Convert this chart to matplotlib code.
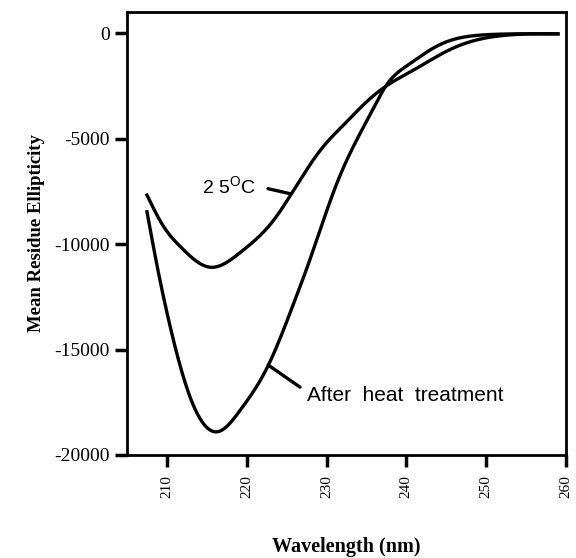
import numpy as np
import matplotlib
matplotlib.use('Agg')
import matplotlib.pyplot as plt

# Valeurs (longueur d'onde en nm, ellipticite)
wl_25c = [207.5, 209.6, 211.7, 215.4, 219.2, 221.3, 223.4, 225.5, 227.6, 229.3,
          232.6, 234.3, 237.4, 240.6, 242.7, 245.6, 248.9, 252.0, 259.0]
ell_25c = [-7680, -9180, -10130, -11100, -10400, -9730, -8860, -7680, -6430, -5520,
           -4180, -3520, -2530, -1820, -1360, -760, -320, -120, -40]

wl_heat = [207.5, 208.7, 210.4, 212.9, 216.3, 219.2, 222.6, 226.0, 227.6, 231.3,
           235.9, 237.4, 240.6, 242.7, 245.6, 248.9, 252.0, 259.0]
ell_heat = [-8470, -10900, -13900, -17250, -18900, -17870, -15830, -12700, -11080, -7120,
            -3550, -2530, -1420, -870, -340, -110, -50, -40]

x_ticks = [210, 220, 230, 240, 250, 260]
y_ticks = [0, -5000, -10000, -15000, -20000]

plt.rcParams['mathtext.fontset'] = 'custom'
plt.rcParams['mathtext.rm'] = 'Liberation Sans'


def spline(xs, ys, n=500):
    # spline cubique naturelle passant par les points lus
    x = np.array(xs, float)
    y = np.array(ys, float)
    k = len(x)
    h = np.diff(x)
    A = np.zeros((k, k))
    b = np.zeros(k)
    A[0, 0] = A[-1, -1] = 1
    for i in range(1, k - 1):
        A[i, i - 1] = h[i - 1]
        A[i, i] = 2 * (h[i - 1] + h[i])
        A[i, i + 1] = h[i]
        b[i] = 6 * ((y[i + 1] - y[i]) / h[i] - (y[i] - y[i - 1]) / h[i - 1])
    m = np.linalg.solve(A, b)
    t = np.linspace(x[0], x[-1], n)
    idx = np.clip(np.searchsorted(x, t) - 1, 0, k - 2)
    x0, x1 = x[idx], x[idx + 1]
    hh = x1 - x0
    a = (x1 - t) / hh
    c = (t - x0) / hh
    out = (a * y[idx] + c * y[idx + 1]
           + ((a ** 3 - a) * m[idx] + (c ** 3 - c) * m[idx + 1]) * hh ** 2 / 6)
    return t, out


fig = plt.figure(figsize=(5.76, 5.58), dpi=100)
ax = fig.add_axes([0.2205, 0.1846, 0.762, 0.794])

x1, y1 = spline(wl_25c, ell_25c)
x2, y2 = spline(wl_heat, ell_heat)
ax.plot(x1, y1, color='black', lw=2.4)
ax.plot(x2, y2, color='black', lw=2.4)

ax.set_xlim(205, 260)
ax.set_ylim(-20000, 1000)
ax.set_xticks(x_ticks)
ax.set_yticks(y_ticks)
ax.set_xticklabels([str(v) for v in x_ticks], rotation=90, family='Liberation Serif', fontsize=11)
ax.set_yticklabels([str(v) for v in y_ticks], family='Liberation Serif', fontsize=14)
ax.tick_params(direction='out', length=8.5, width=2.5)
ax.tick_params(axis='x', pad=6)
ax.tick_params(axis='y', pad=4)
for s in ax.spines.values():
    s.set_linewidth(2)

ax.set_xlabel('Wavelength (nm)', family='Liberation Serif', fontsize=14.5, fontweight='bold')
ax.set_ylabel('Mean Residue Ellipticity', family='Liberation Serif', fontsize=13.5, fontweight='bold')
ax.xaxis.set_label_coords(0.5, -0.185)
ax.yaxis.set_label_coords(-0.187, 0.5)

ax.annotate('2 5$^{\\rm O}$C', xy=(225.5, -7620), xytext=(214.4, -7300),
            fontsize=14, family='Liberation Sans', va='center', ha='left',
            arrowprops=dict(arrowstyle='-', lw=2.4, color='black', shrinkA=7, shrinkB=0,
                            relpos=(1, 0.55)))
ax.annotate('After  heat  treatment', xy=(222.7, -15740), xytext=(227.6, -17160),
            fontsize=15, family='Liberation Sans', va='center', ha='left',
            arrowprops=dict(arrowstyle='-', lw=2.4, color='black', shrinkA=4, shrinkB=0,
                            relpos=(0, 0.65)))

fig.savefig('out.png', dpi=100)
